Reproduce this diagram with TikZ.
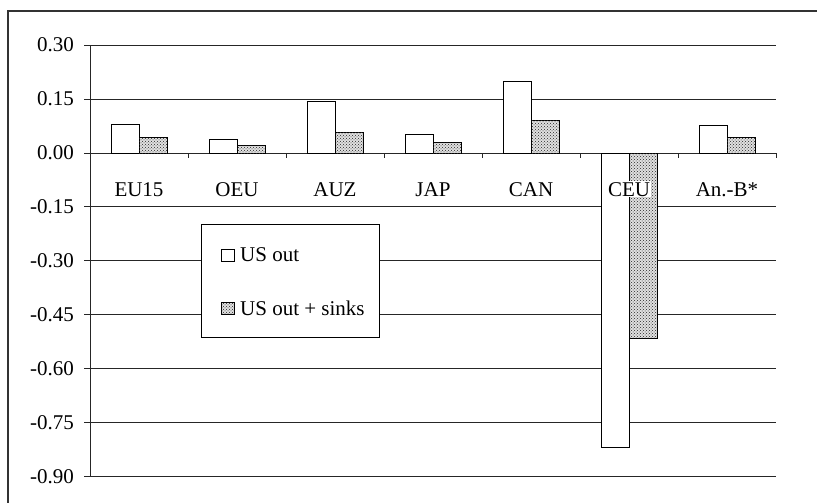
\documentclass[tikz,border=0pt]{standalone}
\usepackage{fontspec}
\setmainfont{Liberation Serif}
\usetikzlibrary{patterns}
\newcommand{\chartfont}{\fontsize{21}{25}\selectfont}
\tikzset{
	bar/.style={draw=black, line width=0.9pt, fill=white},
	dotbar/.style={draw=black, line width=0.9pt, fill=black!12, postaction={pattern=crosshatch dots, pattern color=black!85}},
	grid line/.style={black!85, line width=0.9pt},
	lab/.style={font=\chartfont, inner sep=1pt}
}

\begin{document}
\begin{tikzpicture}[x=1pt,y=-1pt]
		\useasboundingbox (0,0) rectangle (817,503);
		\draw[black!80, line width=1.6pt] (8,510) -- (8,11) -- (825,11);
		\begin{scope}[shift={(90pt,-153pt)}, x=98pt, y=359.6pt]
			\foreach \v in {0.3,0.15,-0.15,-0.3,-0.45,-0.6,-0.75,-0.9}
				\draw[grid line] (0,\v) -- (7,\v);
			\draw[grid line] (0,0) -- (7,0);
			\draw[grid line] (0,0.3) -- (0,-0.9);
			\foreach \v/\t [count=\k] in {0.3/0.30,0.15/0.15,0/0.00,-0.15/-0.15,-0.3/-0.30,-0.45/-0.45,-0.6/-0.60,-0.75/-0.75,-0.9/-0.90}{
				\draw[grid line] (0,\v) -- ++(-6pt,0);
				\node[lab, anchor=east] (ylab\k) at ([xshift=-15pt]0,\v) {\t};
			}
			\foreach \c/\a/\b [count=\k from 0] in {EU15/0.08/0.044,OEU/0.039/0.022,AUZ/0.143/0.056,JAP/0.051/0.028,CAN/0.199/0.091,CEU/-0.82/-0.517,An.-B*/0.078/0.042}{
				\draw[bar] (\k+0.214,0) rectangle (\k+0.5,\a);
				\draw[dotbar] (\k+0.5,0) rectangle (\k+0.786,\b);
				\draw[grid line] (\k+1,0) -- ++(0,-5pt);
				\node[lab, fill=white, anchor=base] (cat\k) at (\k+0.5,-0.12) {\c};
			}
		\end{scope}
		\draw[black, line width=0.9pt, fill=white] (201,224) rectangle (379,337);
		\draw[bar] (221,249) rectangle (234,261);
		\node[lab, anchor=base west] (key1) at (239,261) {US out};
		\draw[dotbar] (221,302) rectangle (234,314);
		\node[lab, anchor=base west] (key2) at (239,315) {US out + sinks};
	\end{tikzpicture}
\end{document}
